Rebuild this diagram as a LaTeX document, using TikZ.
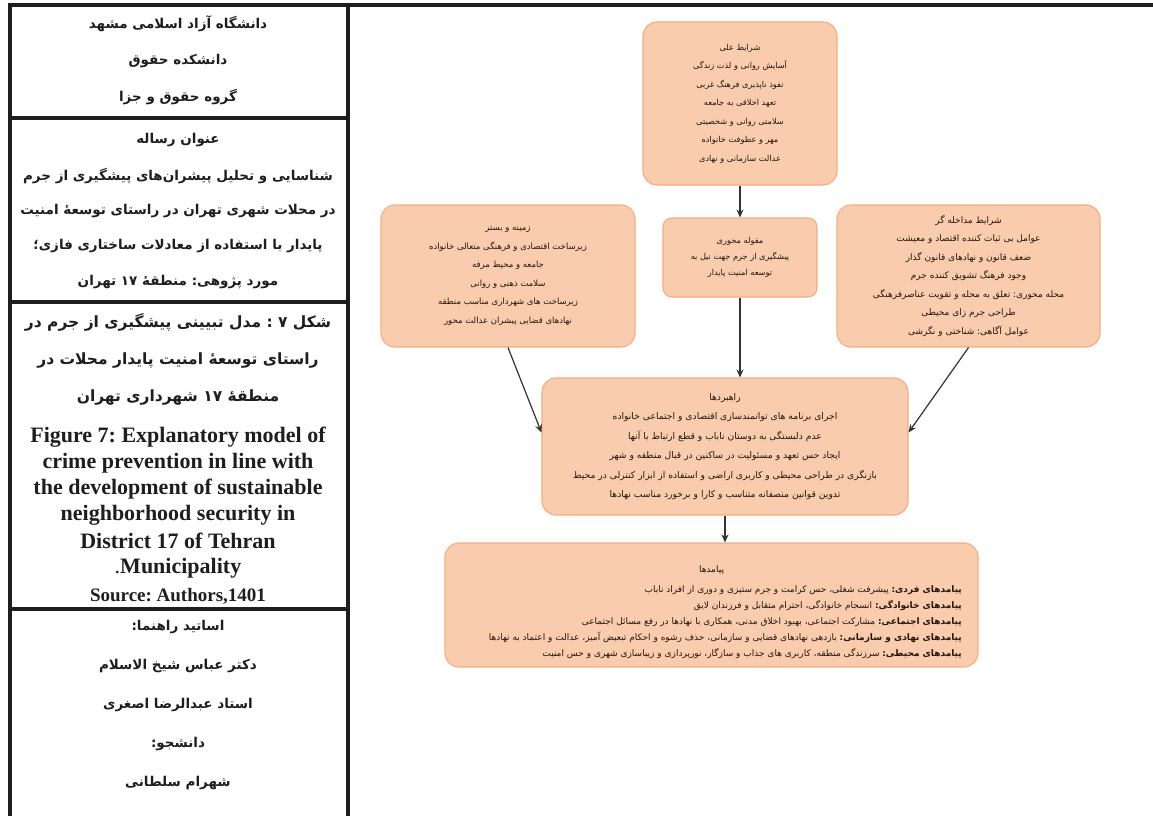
\documentclass[tikz,border=0pt]{standalone}
\usepackage{fontspec}
\setmainfont{Liberation Serif}
\newfontfamily\fa[Script=Arabic]{DejaVu Sans}
\TeXXeTstate=1
\usetikzlibrary{arrows.meta}
\definecolor{boxfill}{HTML}{F9CCAD}
\definecolor{boxline}{HTML}{F2AD84}
\definecolor{boxtext}{HTML}{24160B}
\definecolor{rulec}{HTML}{1E1E1E}
\newcommand\rtl[1]{\beginR#1\endR}
\frenchspacing
\begin{document}
\begin{tikzpicture}[x=1pt,y=-1pt,
  rule/.style={line width=4pt, draw=rulec},
  fatxt/.style={font=\fa\bfseries\fontsize{13.5}{16}\selectfont, inner sep=0, text=rulec},
  fabig/.style={font=\fa\bfseries\fontsize{15.5}{18}\selectfont, inner sep=0, text=rulec},
  entxt/.style={font=\bfseries\fontsize{22}{24}\selectfont, inner sep=0, text=rulec},
  srctxt/.style={font=\bfseries\fontsize{19}{21}\selectfont, inner sep=0, text=rulec},
  box/.style={draw=boxline, fill=boxfill, line width=1.1pt, rounded corners=14pt, inner sep=0, align=center, text=boxtext},
  arr/.style={draw=black!80, line width=1.2pt, -{Stealth[length=8pt,width=7pt]}},
]
\useasboundingbox (0,0) rectangle (1153,816);
\fill[white] (0,0) rectangle (1153,816);
% table rules
\draw[rule] (8,5) -- (1153,5);
\draw[rule] (10,3) -- (10,816);
\draw[rule] (348,3) -- (348,816);
\draw[rule] (10,118) -- (348,118);
\draw[rule] (10,302) -- (348,302);
\draw[rule] (10,609) -- (348,609);
% left panel text
\node[fatxt] (h1) at (178,24) {\rtl{دانشگاه آزاد اسلامی مشهد}};
\node[fatxt] (h2) at (178,61) {\rtl{دانشکده حقوق}};
\node[fatxt] (h3) at (178,97) {\rtl{گروه حقوق و جزا}};
\node[fatxt] (t0) at (178,140) {\rtl{عنوان رساله}};
\node[fatxt] (t1) at (178,176) {\rtl{شناسایی و تحلیل پیشران‌های پیشگیری از جرم}};
\node[fatxt] (t2) at (178,211) {\rtl{در محلات شهری تهران در راستای توسعهٔ امنیت}};
\node[fatxt] (t3) at (178,246) {\rtl{پایدار با استفاده از معادلات ساختاری فازی؛}};
\node[fatxt] (t4) at (178,282) {\rtl{مورد پژوهی: منطقهٔ ۱۷ تهران}};
\node[fabig] (c1) at (178,322) {\rtl{شکل ۷ : مدل تبیینی پیشگیری از جرم در}};
\node[fabig] (c2) at (178,360) {\rtl{راستای توسعهٔ امنیت پایدار محلات در}};
\node[fabig] (c3) at (178,398) {\rtl{منطقهٔ ۱۷ شهرداری تهران}};
\node[entxt] (e1) at (178,437) {Figure 7: Explanatory model of};
\node[entxt] (e2) at (178,463) {crime prevention in line with};
\node[entxt] (e3) at (178,489) {the development of sustainable};
\node[entxt] (e4) at (178,515) {neighborhood security in};
\node[entxt] (e5) at (178,541) {District 17 of Tehran};
\node[entxt] (e6) at (178,568) {{\mdseries .}Municipality};
\node[srctxt] (e7) at (178,596) {Source: Authors,1401};
\node[fatxt] (s1) at (178,627) {\rtl{اساتید راهنما:}};
\node[fatxt] (s2) at (178,666) {\rtl{دکتر عباس شیخ الاسلام}};
\node[fatxt] (s3) at (178,705) {\rtl{استاد عبدالرضا اصغری}};
\node[fatxt] (s4) at (178,744) {\rtl{دانشجو:}};
\node[fatxt] (s5) at (178,783) {\rtl{شهرام سلطانی}};
% flowchart boxes
\node[box, minimum width=194pt, minimum height=163pt, font=\fa\fontsize{8.2}{18.5}\selectfont] (cause) at (740,103.5) {%
\rtl{شرایط علی}\\
\rtl{آسایش روانی و لذت زندگی}\\
\rtl{نفوذ ناپذیری فرهنگ غربی}\\
\rtl{تعهد اخلاقی به جامعه}\\
\rtl{سلامتی روانی و شخصیتی}\\
\rtl{مهر و عطوفت خانواده}\\
\rtl{عدالت سازمانی و نهادی}};
\node[box, rounded corners=9pt, minimum width=154pt, minimum height=79pt, font=\fa\fontsize{8.2}{16}\selectfont] (core) at (740,257.5) {%
\rtl{مقوله محوری}\\
\rtl{پیشگیری از جرم جهت نیل به}\\
\rtl{توسعه امنیت پایدار}};
\node[box, minimum width=254pt, minimum height=142pt, font=\fa\fontsize{8.5}{18.5}\selectfont] (ctx) at (508,276) {%
\rtl{زمینه و بستر}\\
\rtl{زیرساخت اقتصادی و فرهنگی متعالی خانواده}\\
\rtl{جامعه و محیط مرفه}\\
\rtl{سلامت ذهنی و روانی}\\
\rtl{زیرساخت های شهرداری مناسب منطقه}\\
\rtl{نهادهای قضایی پیشران عدالت محور}};
\node[box, minimum width=263pt, minimum height=142pt, font=\fa\fontsize{9}{18.5}\selectfont] (inter) at (968.5,276) {%
\rtl{شرایط مداخله گر}\\
\rtl{عوامل بی ثبات کننده اقتصاد و معیشت}\\
\rtl{ضعف قانون و نهادهای قانون گذار}\\
\rtl{وجود فرهنگ تشویق کننده جرم}\\
\rtl{محله محوری: تعلق به محله و تقویت عناصرفرهنگی}\\
\rtl{طراحی جرم زای محیطی}\\
\rtl{عوامل آگاهی: شناختی و نگرشی}};
\node[box, minimum width=366pt, minimum height=137pt, font=\fa\fontsize{9.2}{19.5}\selectfont] (strat) at (725,446.5) {%
\rtl{راهبردها}\\
\rtl{اجرای برنامه های توانمندسازی اقتصادی و اجتماعی خانواده}\\
\rtl{عدم دلبستگی به دوستان ناباب و قطع ارتباط با آنها}\\
\rtl{ایجاد حس تعهد و مسئولیت در ساکنین در قبال منطقه و شهر}\\
\rtl{بازنگری در طراحی محیطی و کاربری اراضی و استفاده از ابزار کنترلی در محیط}\\
\rtl{تدوین قوانین منصفانه متناسب و کارا و برخورد مناسب نهادها}};
\node[box, minimum width=533pt, minimum height=124pt] (imp) at (711.5,605) {};
\node[inner sep=0, text=boxtext, font=\fa\fontsize{9}{16}\selectfont] (impt) at (711.5,570) {\rtl{پیامدها}};
\node[inner sep=0, anchor=east, align=right, text=boxtext, font=\fa\fontsize{9}{16}\selectfont] (impl) at (962,622) {%
\rtl{{\bfseries پیامدهای فردی:} پیشرفت شغلی، حس کرامت و جرم ستیزی و دوری از افراد ناباب}\\
\rtl{{\bfseries پیامدهای خانوادگی:} انسجام خانوادگی، احترام متقابل و فرزندان لایق}\\
\rtl{{\bfseries پیامدهای اجتماعی:} مشارکت اجتماعی، بهبود اخلاق مدنی، همکاری با نهادها در رفع مسائل اجتماعی}\\
\rtl{{\bfseries پیامدهای نهادی و سازمانی:} بازدهی نهادهای قضایی و سازمانی، حذف رشوه و احکام تبعیض آمیز، عدالت و اعتماد به نهادها}\\
\rtl{{\bfseries پیامدهای محیطی:} سرزندگی منطقه، کاربری های جذاب و سازگار، نورپردازی و زیباسازی شهری و حس امنیت}};
% connectors
\coordinate (sl) at ([yshift=14pt]strat.west);
\coordinate (sr) at ([yshift=14pt]strat.east);
\draw[arr] (cause.south) -- (core.north);
\draw[arr] (core.south) -- (core.south |- strat.north);
\draw[arr] (ctx.south) -- (sl);
\draw[arr] (inter.south) -- (sr);
\draw[arr] (strat.south) -- (strat.south |- imp.north);
\end{tikzpicture}
\end{document}
